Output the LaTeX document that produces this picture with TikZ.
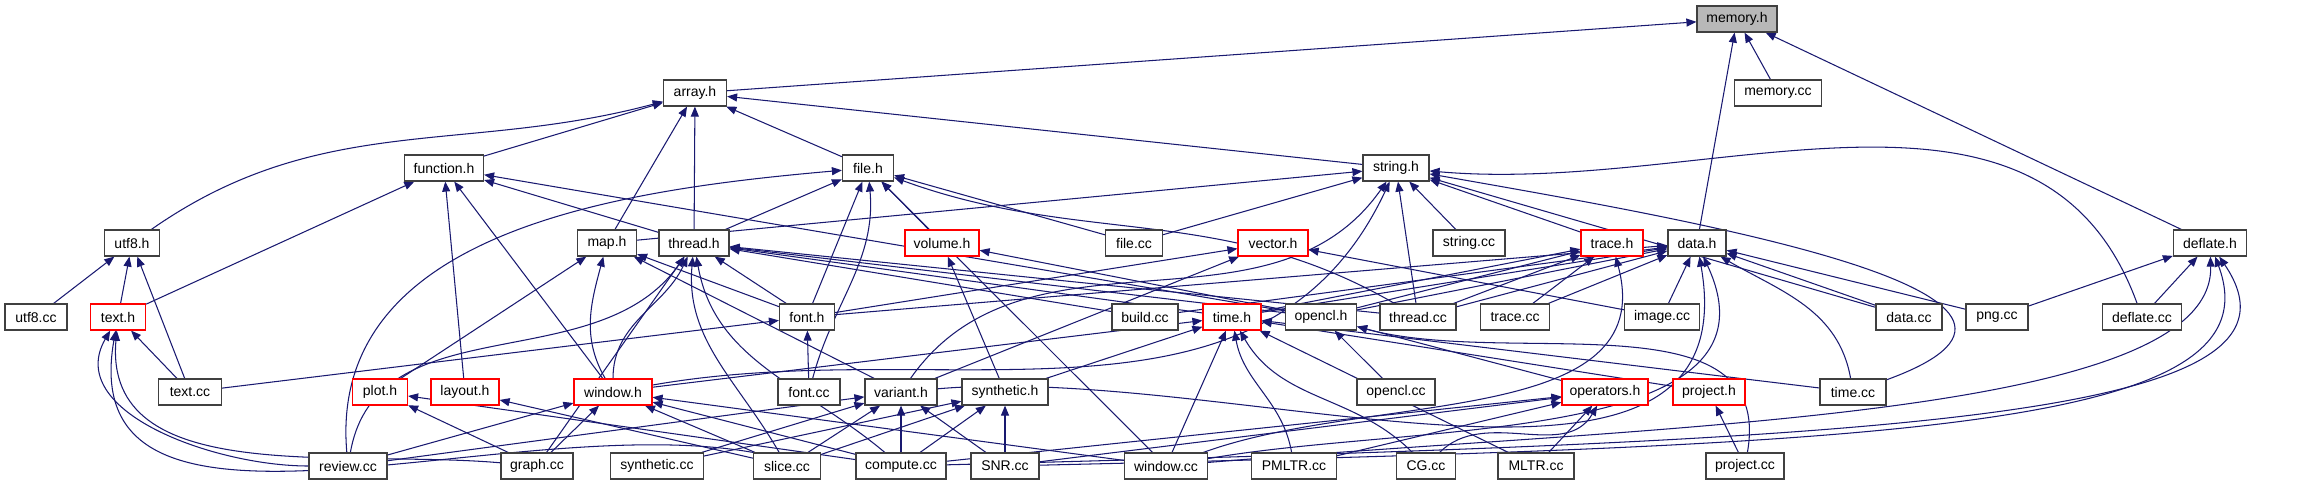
\documentclass[tikz,border=0pt]{standalone}
\usepackage{fontspec}
\setmainfont{Liberation Sans}
\usepackage{xcolor}
\usepackage{tikz}
\usetikzlibrary{arrows.meta, backgrounds}
\definecolor{edgeblue}{HTML}{191970}
\tikzset{
  filebox/.style={rectangle, draw=black!75, line width=1.2pt, fill=white, minimum height=26pt, inner sep=0pt, text centered, font=\fontsize{14}{16}\selectfont},
  redbox/.style={filebox, draw=red},
  rootbox/.style={filebox, fill=black!28},
  arrowline/.style={-{Triangle[length=10pt,width=8pt]}, draw=edgeblue, line width=1.05pt},
}
\begin{document}
\begin{tikzpicture}[x=1pt, y=1pt]
\useasboundingbox (0,0) rectangle (2315,-485);
\node[rootbox, minimum width=80pt] (memh) at (1737,-19) {memory.h};
\node[filebox, minimum width=63pt] (arrayh) at (695,-93) {array.h};
\node[filebox, minimum width=87pt] (memcc) at (1778,-93) {memory.cc};
\node[filebox, minimum width=79pt] (funch) at (444,-168) {function.h};
\node[filebox, minimum width=51pt] (fileh) at (868,-168) {file.h};
\node[filebox, minimum width=66pt] (strh) at (1396,-168) {string.h};
\node[filebox, minimum width=55pt] (utfh) at (132,-243) {utf8.h};
\node[filebox, minimum width=59pt] (maph) at (607,-243) {map.h};
\node[filebox, minimum width=70pt] (threadh) at (694,-243) {thread.h};
\node[redbox, minimum width=74pt] (volh) at (942,-243) {volume.h};
\node[filebox, minimum width=57pt] (filecc) at (1134,-243) {file.cc};
\node[redbox, minimum width=70pt] (vech) at (1273,-243) {vector.h};
\node[filebox, minimum width=72pt] (strcc) at (1469,-243) {string.cc};
\node[redbox, minimum width=62pt] (traceh) at (1612,-243) {trace.h};
\node[filebox, minimum width=58pt] (datah) at (1697,-243) {data.h};
\node[filebox, minimum width=73pt] (deflh) at (2210,-243) {deflate.h};
\node[filebox, minimum width=62pt] (utfcc) at (36,-317) {utf8.cc};
\node[redbox, minimum width=55pt] (texth) at (118,-317) {text.h};
\node[filebox, minimum width=55pt] (fonth) at (807,-317) {font.h};
\node[filebox, minimum width=66pt] (buildcc) at (1145,-317) {build.cc};
\node[redbox, minimum width=58pt] (timeh) at (1232,-317) {time.h};
\node[filebox, minimum width=71pt] (clh) at (1321,-317) {opencl.h};
\node[filebox, minimum width=76pt] (threadcc) at (1418,-317) {thread.cc};
\node[filebox, minimum width=69pt] (tracecc) at (1515,-317) {trace.cc};
\node[filebox, minimum width=75pt] (imgcc) at (1662,-317) {image.cc};
\node[filebox, minimum width=66pt] (datacc) at (1909,-317) {data.cc};
\node[filebox, minimum width=62pt] (pngcc) at (1997,-317) {png.cc};
\node[filebox, minimum width=79pt] (deflcc) at (2142,-317) {deflate.cc};
\node[filebox, minimum width=63pt] (textcc) at (190,-392) {text.cc};
\node[redbox, minimum width=55pt] (ploth) at (380,-392) {plot.h};
\node[redbox, minimum width=68pt] (layouth) at (465,-392) {layout.h};
\node[redbox, minimum width=78pt] (winh) at (613,-392) {window.h};
\node[filebox, minimum width=62pt] (fontcc) at (809,-392) {font.cc};
\node[filebox, minimum width=72pt] (varh) at (901,-392) {variant.h};
\node[filebox, minimum width=86pt] (synh) at (1005,-392) {synthetic.h};
\node[filebox, minimum width=78pt] (clcc) at (1396,-392) {opencl.cc};
\node[redbox, minimum width=86pt] (oph) at (1605,-392) {operators.h};
\node[redbox, minimum width=72pt] (projh) at (1709,-392) {project.h};
\node[filebox, minimum width=66pt] (timecc) at (1853,-392) {time.cc};
\node[filebox, minimum width=78pt] (reviewcc) at (348,-466) {review.cc};
\node[filebox, minimum width=72pt] (graphcc) at (537,-466) {graph.cc};
\node[filebox, minimum width=93pt] (syncc) at (657,-466) {synthetic.cc};
\node[filebox, minimum width=67pt] (slicecc) at (787,-466) {slice.cc};
\node[filebox, minimum width=90pt] (computecc) at (901,-466) {compute.cc};
\node[filebox, minimum width=68pt] (snrcc) at (1005,-466) {SNR.cc};
\node[filebox, minimum width=83pt] (wincc) at (1166,-466) {window.cc};
\node[filebox, minimum width=85pt] (pmltrcc) at (1294,-466) {PMLTR.cc};
\node[filebox, minimum width=59pt] (cgcc) at (1426,-466) {CG.cc};
\node[filebox, minimum width=76pt] (mltrcc) at (1536,-466) {MLTR.cc};
\node[filebox, minimum width=78pt] (projcc) at (1745,-466) {project.cc};

\begin{scope}[on background layer]
\draw[arrowline] (arrayh) -- (memh);
\draw[arrowline] (datah) -- (memh);
\draw[arrowline] (memcc) -- (memh);
\draw[arrowline] (deflh) -- (memh);
\draw[arrowline] (utfh) to[out=35, in=195] (arrayh);
\draw[arrowline] (funch) -- (arrayh);
\draw[arrowline] (maph) -- (arrayh);
\draw[arrowline] (threadh) -- (arrayh);
\draw[arrowline] (fileh) -- (arrayh);
\draw[arrowline] (strh) -- (arrayh);
\draw[arrowline] (texth) -- (funch);
\draw[arrowline] (layouth) -- (funch);
\draw[arrowline] (winh) -- (funch);
\draw[arrowline] (threadh) -- (funch);
\draw[arrowline] (clh) -- (funch);
\draw[arrowline] (reviewcc) to[out=95, in=185] (fileh);
\draw[arrowline] (threadh) -- (fileh);
\draw[arrowline] (fonth) -- (fileh);
\draw[arrowline] (fontcc) to[out=75, in=-85] (fileh);
\draw[arrowline] (volh) -- (fileh);
\draw[arrowline] (wincc) -- (fileh);
\draw[arrowline] (filecc) -- (fileh);
\draw[arrowline] (threadcc) to[out=150, in=-20] (fileh);
\draw[arrowline] (maph) -- (strh);
\draw[arrowline] (filecc) -- (strh);
\draw[arrowline] (varh) to[out=55, in=-125] (strh);
\draw[arrowline] (winh) to[out=10, in=-115] (strh);
\draw[arrowline] (threadcc) -- (strh);
\draw[arrowline] (strcc) -- (strh);
\draw[arrowline] (traceh) -- (strh);
\draw[arrowline] (deflcc) to[out=110, in=-5] (strh);
\draw[arrowline] (timecc) to[out=20, in=-10, looseness=1.3] (strh);
\draw[arrowline] (datacc) -- (strh);
\draw[arrowline] (winh) to[out=90, in=-115] (threadh);
\draw[arrowline] (graphcc) -- (threadh);
\draw[arrowline] (slicecc) to[out=120, in=-95] (threadh);
\draw[arrowline] (computecc) to[out=140, in=-80] (threadh);
\draw[arrowline] (fonth) -- (threadh);
\draw[arrowline] (buildcc) -- (threadh);
\draw[arrowline] (threadcc) -- (threadh);
\draw[arrowline] (timeh) -- (threadh);
\draw[arrowline] (clh) -- (threadh);
\draw[arrowline] (reviewcc) to[out=80, in=-125] (threadh);
\draw[arrowline] (ploth) -- (maph);
\draw[arrowline] (winh) to[out=120, in=-105] (maph);
\draw[arrowline] (fonth) -- (maph);
\draw[arrowline] (varh) -- (maph);
\draw[arrowline] (synh) -- (volh);
\draw[arrowline] (clh) -- (volh);
\draw[arrowline] (fonth) -- (vech);
\draw[arrowline] (varh) -- (vech);
\draw[arrowline] (imgcc) -- (vech);
\draw[arrowline] (textcc) -- (fonth);
\draw[arrowline] (fontcc) -- (fonth);
\draw[arrowline] (winh) -- (timeh);
\draw[arrowline] (synh) -- (timeh);
\draw[arrowline] (wincc) -- (timeh);
\draw[arrowline] (pmltrcc) to[out=100, in=-80] (timeh);
\draw[arrowline] (cgcc) to[out=135, in=-60] (timeh);
\draw[arrowline] (mltrcc) -- (timeh);
\draw[arrowline] (projh) -- (timeh);
\draw[arrowline] (timecc) -- (timeh);
\draw[arrowline] (clcc) -- (clh);
\draw[arrowline] (oph) -- (clh);
\draw[arrowline] (projcc) to[out=80, in=-15] (clh);
\draw[arrowline] (threadcc) -- (traceh);
\draw[arrowline] (timeh) -- (traceh);
\draw[arrowline] (clh) -- (traceh);
\draw[arrowline] (tracecc) -- (traceh);
\draw[arrowline] (wincc) to[out=20, in=-75] (traceh);
\draw[arrowline] (fonth) -- (datah);
\draw[arrowline] (buildcc) -- (datah);
\draw[arrowline] (timeh) -- (datah);
\draw[arrowline] (clh) -- (datah);
\draw[arrowline] (threadcc) -- (datah);
\draw[arrowline] (tracecc) -- (datah);
\draw[arrowline] (imgcc) -- (datah);
\draw[arrowline] (datacc) -- (datah);
\draw[arrowline] (pngcc) -- (datah);
\draw[arrowline] (timecc) to[out=100, in=-30] (datah);
\draw[arrowline] (varh) to[out=5, in=-80] (datah);
\draw[arrowline] (wincc) to[out=10, in=-65] (datah);
\draw[arrowline] (pngcc) -- (deflh);
\draw[arrowline] (deflcc) -- (deflh);
\draw[arrowline] (wincc) .. controls (1650,-425) and (2215,-420) .. (deflh);
\draw[arrowline] (snrcc) .. controls (1900,-445) and (2280,-430) .. (deflh);
\draw[arrowline] (computecc) .. controls (1900,-440) and (2330,-420) .. (deflh);
\draw[arrowline] (utfcc) -- (utfh);
\draw[arrowline] (texth) -- (utfh);
\draw[arrowline] (textcc) -- (utfh);
\draw[arrowline] (textcc) -- (texth);
\draw[arrowline] (reviewcc.west) to[out=180, in=-120] (texth);
\draw[arrowline] (graphcc) to[out=175, in=-95] (texth);
\draw[arrowline] (slicecc.north west) to[out=170, in=-100] (texth);
\draw[arrowline] (reviewcc) -- (winh);
\draw[arrowline] (graphcc) -- (winh);
\draw[arrowline] (slicecc) -- (winh);
\draw[arrowline] (computecc) -- (winh);
\draw[arrowline] (wincc) -- (winh);
\draw[arrowline] (graphcc) -- (ploth);
\draw[arrowline] (computecc) -- (ploth);
\draw[arrowline] (slicecc) -- (layouth);
\draw[arrowline] (syncc) -- (varh);
\draw[arrowline] (slicecc) -- (varh);
\draw[arrowline] (computecc) -- (varh);
\draw[arrowline] (snrcc) -- (varh);
\draw[arrowline] (reviewcc) -- (varh);
\draw[arrowline] (slicecc) -- (synh);
\draw[arrowline] (computecc) -- (synh);
\draw[arrowline] (snrcc) -- (synh);
\draw[arrowline] (syncc) -- (synh);
\draw[arrowline] (pmltrcc) -- (oph);
\draw[arrowline] (cgcc) to[out=45, in=-120] (oph);
\draw[arrowline] (mltrcc) -- (oph);
\draw[arrowline] (computecc) -- (oph);
\draw[arrowline] (snrcc) -- (oph);
\draw[arrowline] (projcc) -- (projh);
\end{scope}
\end{tikzpicture}
\end{document}
